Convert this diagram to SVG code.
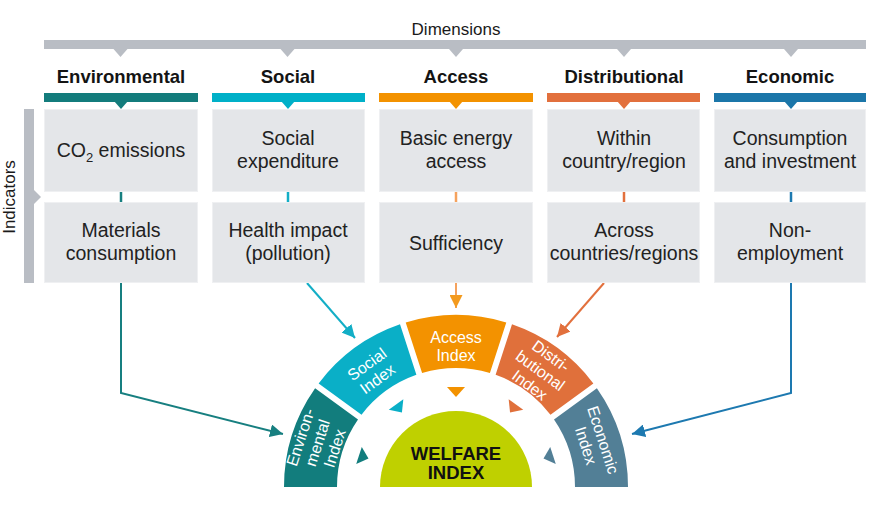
<svg xmlns="http://www.w3.org/2000/svg" width="870" height="506" viewBox="0 0 870 506">
<style>
.dim{font-family:"Liberation Sans",Arial,sans-serif;font-size:17px;fill:#1a1a1a}
.hdr{font-family:"Liberation Sans",Arial,sans-serif;font-size:18.5px;font-weight:bold;fill:#141414;text-anchor:middle}
.box{fill:#e4e6e9;stroke:#eff0f2;stroke-width:1}
.bt{font-family:"Liberation Sans",Arial,sans-serif;font-size:19.5px;fill:#222;text-anchor:middle}
.seg{font-family:"Liberation Sans",Arial,sans-serif;font-size:16px;fill:#fff;text-anchor:middle}
.wf{font-family:"Liberation Sans",Arial,sans-serif;font-size:18.5px;font-weight:bold;fill:#111;text-anchor:middle}
.gray{fill:#b9bdc4}
.con{fill:none;stroke-width:2}
</style>
<defs>
<marker id="mEnv" markerUnits="userSpaceOnUse" markerWidth="13" markerHeight="13" refX="13" refY="6.5" orient="auto"><path d="M0,0 L13,6.5 L0,13 z" fill="#177f80"/></marker>
<marker id="mSoc" markerUnits="userSpaceOnUse" markerWidth="13" markerHeight="13" refX="13" refY="6.5" orient="auto"><path d="M0,0 L13,6.5 L0,13 z" fill="#13aec6"/></marker>
<marker id="mAcc" markerUnits="userSpaceOnUse" markerWidth="13" markerHeight="13" refX="13" refY="6.5" orient="auto"><path d="M0,0 L13,6.5 L0,13 z" fill="#f39a1e"/></marker>
<marker id="mDis" markerUnits="userSpaceOnUse" markerWidth="13" markerHeight="13" refX="13" refY="6.5" orient="auto"><path d="M0,0 L13,6.5 L0,13 z" fill="#e2703d"/></marker>
<marker id="mEco" markerUnits="userSpaceOnUse" markerWidth="13" markerHeight="13" refX="13" refY="6.5" orient="auto"><path d="M0,0 L13,6.5 L0,13 z" fill="#1d79b0"/></marker>
<polygon id="tri" points="-9,-5 9,-5 0,5"/>
</defs>

<g id="dimensions">
<text class="dim" x="456" y="35" text-anchor="middle">Dimensions</text>
<rect class="gray" x="44" y="40" width="822" height="9"/>
<polygon class="gray" points="113.5,49 127.5,49 120.5,57"/>
<polygon class="gray" points="280.5,49 294.5,49 287.5,57"/>
<polygon class="gray" points="449,49 463,49 456,57"/>
<polygon class="gray" points="617,49 631,49 624,57"/>
<polygon class="gray" points="784,49 798,49 791,57"/>
</g>

<g id="indicators">
<rect class="gray" x="24" y="109" width="10" height="174"/>
<polygon class="gray" points="34,190 41,197 34,204"/>
<text class="dim" transform="translate(15,197) rotate(-90)" text-anchor="middle" font-size="17.5">Indicators</text>
</g>

<g id="connectors">
<line x1="121" y1="192" x2="121" y2="202" stroke="#177f80" stroke-width="2.5"/>
<line x1="288" y1="192" x2="288" y2="202" stroke="#13aec6" stroke-width="2.5"/>
<line x1="456" y1="192" x2="456" y2="202" stroke="#f5a25d" stroke-width="2.5"/>
<line x1="624" y1="192" x2="624" y2="202" stroke="#e2703d" stroke-width="2.5"/>
<line x1="791" y1="192" x2="791" y2="202" stroke="#1d79b0" stroke-width="2.5"/>
<polyline class="con" stroke="#177f80" points="121,283 121,393 283,434" marker-end="url(#mEnv)"/>
<line class="con" stroke="#13aec6" x1="307" y1="283" x2="355" y2="338" marker-end="url(#mSoc)"/>
<line class="con" stroke="#f5a25d" x1="456" y1="283" x2="456" y2="308" marker-end="url(#mAcc)"/>
<line class="con" stroke="#e2703d" x1="604" y1="283" x2="557" y2="337" marker-end="url(#mDis)"/>
<polyline class="con" stroke="#1d79b0" points="791,283 791,393 632,434" marker-end="url(#mEco)"/>
</g>

<g id="environmental">
<text class="hdr" x="121" y="83">Environmental</text>
<rect x="44" y="93" width="154" height="9" fill="#137c7c"/>
<rect class="box" x="44.5" y="109.5" width="153" height="82"/>
<rect class="box" x="44.5" y="202.5" width="153" height="80"/>
<polygon points="114,101 128,101 121,109" fill="#137c7c"/>
<text class="bt" x="121" y="157">CO<tspan font-size="13" dy="5">2</tspan><tspan dy="-5"> emissions</tspan></text>
<text class="bt" x="121" y="237">Materials</text>
<text class="bt" x="121" y="260">consumption</text>
</g>

<g id="social">
<text class="hdr" x="288" y="83">Social</text>
<rect x="212" y="93" width="153" height="9" fill="#00b0c8"/>
<rect class="box" x="212.5" y="109.5" width="152" height="82"/>
<rect class="box" x="212.5" y="202.5" width="152" height="80"/>
<polygon points="281,101 295,101 288,109" fill="#00b0c8"/>
<text class="bt" x="288" y="145">Social</text>
<text class="bt" x="288" y="168">expenditure</text>
<text class="bt" x="288" y="237">Health impact</text>
<text class="bt" x="288" y="260">(pollution)</text>
</g>

<g id="access">
<text class="hdr" x="456" y="83">Access</text>
<rect x="379" y="93" width="154" height="9" fill="#f39200"/>
<rect class="box" x="379.5" y="109.5" width="153" height="82"/>
<rect class="box" x="379.5" y="202.5" width="153" height="80"/>
<polygon points="449,101 463,101 456,109" fill="#f39200"/>
<text class="bt" x="456" y="145">Basic energy</text>
<text class="bt" x="456" y="168">access</text>
<text class="bt" x="456" y="250">Sufficiency</text>
</g>

<g id="distributional">
<text class="hdr" x="624" y="83">Distributional</text>
<rect x="547" y="93" width="153" height="9" fill="#e2703d"/>
<rect class="box" x="547.5" y="109.5" width="152" height="82"/>
<rect class="box" x="547.5" y="202.5" width="152" height="80"/>
<polygon points="617,101 631,101 624,109" fill="#e2703d"/>
<text class="bt" x="624" y="145">Within</text>
<text class="bt" x="624" y="168">country/region</text>
<text class="bt" x="624" y="237">Across</text>
<text class="bt" x="624" y="260">countries/regions</text>
</g>

<g id="economic">
<text class="hdr" x="790" y="83">Economic</text>
<rect x="714" y="93" width="152" height="9" fill="#1b76a9"/>
<rect class="box" x="714.5" y="109.5" width="151" height="82"/>
<rect class="box" x="714.5" y="202.5" width="151" height="80"/>
<polygon points="784,101 798,101 791,109" fill="#1b76a9"/>
<text class="bt" x="790" y="145">Consumption</text>
<text class="bt" x="790" y="168">and investment</text>
<text class="bt" x="790" y="237">Non-</text>
<text class="bt" x="790" y="260">employment</text>
</g>

<g id="env-index">
<path d="M284,487 A172,172 0 0,1 315.11,388.34 L358.00,419.49 A119,119 0 0,0 337,487 Z" fill="#127d7d"/>
<g transform="translate(318,443) rotate(-72)">
<text class="seg" y="-13">Environ-</text>
<text class="seg" y="5">mental</text>
<text class="seg" y="23">Index</text>
</g>
<use href="#tri" fill="#127d7d" transform="rotate(-72,456,487) translate(456,390)"/>
</g>

<g id="social-index">
<path d="M318.63,383.49 A172,172 0 0,1 400.00,324.37 L416.39,374.79 A119,119 0 0,0 361.52,414.65 Z" fill="#0aafc7"/>
<g transform="translate(372.5,372) rotate(-36)">
<text class="seg" y="-4">Social</text>
<text class="seg" y="14">Index</text>
</g>
<use href="#tri" fill="#0aafc7" transform="rotate(-36,456,487) translate(456,390)"/>
</g>

<g id="access-index">
<path d="M405.71,322.52 A172,172 0 0,1 506.29,322.52 L489.91,372.93 A119,119 0 0,0 422.09,372.93 Z" fill="#f39200"/>
<text class="seg" x="456" y="343">Access</text>
<text class="seg" x="456" y="361">Index</text>
<use href="#tri" fill="#f39200" transform="translate(456,392)"/>
</g>

<g id="distributional-index">
<path d="M512.00,324.37 A172,172 0 0,1 593.37,383.49 L550.48,414.65 A119,119 0 0,0 495.61,374.79 Z" fill="#e0703b"/>
<g transform="translate(540,371) rotate(36)">
<text class="seg" y="-13">Distri-</text>
<text class="seg" y="5">butional</text>
<text class="seg" y="23">Index</text>
</g>
<use href="#tri" fill="#e0703b" transform="rotate(36,456,487) translate(456,390)"/>
</g>

<g id="economic-index">
<path d="M596.89,388.34 A172,172 0 0,1 628,487 L575,487 A119,119 0 0,0 554.00,419.49 Z" fill="#527f96"/>
<g transform="translate(594,443) rotate(72)">
<text class="seg" y="-4">Economic</text>
<text class="seg" y="14">Index</text>
</g>
<use href="#tri" fill="#527f96" transform="rotate(72,456,487) translate(456,390)"/>
</g>

<g id="welfare-index">
<path d="M380,487 A76,76 0 0,1 532,487 Z" fill="#bfd000"/>
<text class="wf" x="456" y="460">WELFARE</text>
<text class="wf" x="456" y="479">INDEX</text>
</g>
</svg>
